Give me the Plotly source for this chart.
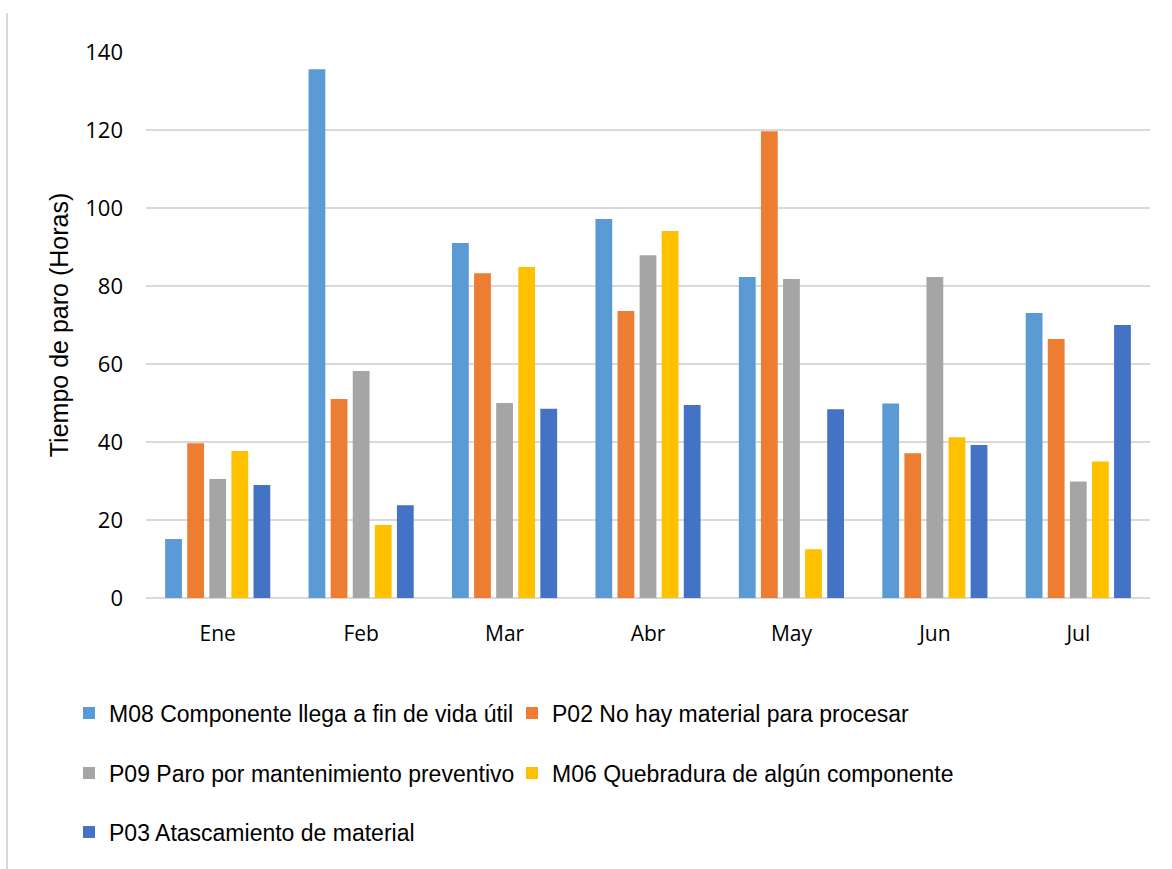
import plotly.graph_objects as go

# Monthly downtime (hours) per stoppage cause
months = ["Ene", "Feb", "Mar", "Abr", "May", "Jun", "Jul"]

m08_fin_vida = [15.1, 135.6, 91.0, 97.2, 82.3, 49.9, 73.1]
p02_sin_material = [39.7, 51.0, 83.3, 73.6, 119.7, 37.1, 66.4]
p09_mantenimiento = [30.5, 58.2, 50.0, 87.9, 81.8, 82.3, 29.9]
m06_quebradura = [37.7, 18.7, 84.9, 94.1, 12.5, 41.2, 35.0]
p03_atascamiento = [29.0, 23.8, 48.5, 49.5, 48.4, 39.2, 70.0]

series_names = [
    "M08 Componente llega a fin de vida útil",
    "P02 No hay material para procesar",
    "P09 Paro por mantenimiento preventivo",
    "M06 Quebradura de algún componente",
    "P03 Atascamiento de material",
]
series_values = [m08_fin_vida, p02_sin_material, p09_mantenimiento,
                 m06_quebradura, p03_atascamiento]
colors = ["#5B9BD5", "#ED7D31", "#A5A5A5", "#FFC000", "#4472C4"]
legend_rows = ["legend", "legend", "legend2", "legend2", "legend3"]

y_ticks = [0, 20, 40, 60, 80, 100, 120, 140]

fig = go.Figure()
for name, vals, col, lg in zip(series_names, series_values, colors, legend_rows):
    fig.add_trace(go.Bar(x=months, y=vals, name=name, marker_color=col,
                         marker_line_width=0, legend=lg))

W, H = 1172, 869
ml, mr, mt, mb = 146, 22, 52, 271
plot_h = H - mt - mb
plot_w = W - ml - mr


def py(pixel_y):
    return (H - mb - pixel_y) / plot_h


def px(pixel_x):
    return (pixel_x - ml) / plot_w


sans = "Arial, Liberation Sans, sans-serif"
legend_font = dict(family=sans, size=23, color="#000000")
legend_common = dict(orientation="h", xanchor="left", yanchor="middle",
                     x=px(69), font=legend_font, entrywidth=398,
                     entrywidthmode="pixels", bgcolor="rgba(0,0,0,0)",
                     traceorder="normal")

fig.update_layout(
    width=W, height=H,
    margin=dict(l=ml, r=mr, t=mt, b=mb, pad=0),
    paper_bgcolor="white", plot_bgcolor="white",
    barmode="group", bargap=0.23, bargroupgap=0.24,
    font=dict(family="Open Sans, sans-serif", color="#000000"),
    legend=dict(**legend_common, y=py(713)),
    legend2=dict(**legend_common, y=py(773)),
    legend3=dict(**legend_common, y=py(832)),
    xaxis=dict(
        showgrid=False, showline=False, zeroline=False, ticks="",
        tickfont=dict(family="Open Sans, sans-serif", size=21, color="#000000"),
        ticklabelstandoff=21,
    ),
    yaxis=dict(
        range=[0, 140], tickvals=y_ticks,
        showgrid=True, gridcolor="#D9D9D9", gridwidth=2,
        zeroline=True, zerolinecolor="#D9D9D9", zerolinewidth=2,
        showline=False, ticks="",
        tickfont=dict(family="Open Sans, sans-serif", size=22, color="#000000"),
        ticklabelstandoff=22,
        title=dict(text="Tiempo de paro (Horas)", standoff=9,
                   font=dict(family=sans, size=25, color="#000000")),
    ),
    shapes=[dict(type="line", xref="paper", yref="paper",
                 x0=px(7), x1=px(7), y0=py(13), y1=py(H),
                 line=dict(color="#D9D9D9", width=2))],
)

fig.write_html("out.html")
